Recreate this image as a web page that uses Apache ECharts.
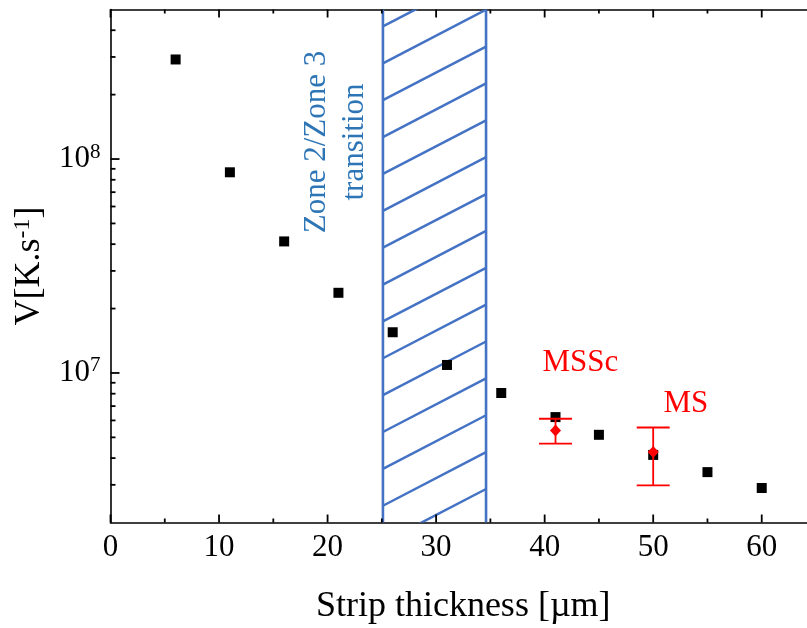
<!DOCTYPE html>
<html><head><meta charset="utf-8">
<script src="https://cdn.jsdelivr.net/npm/echarts@6/dist/echarts.min.js"></script>
<style>html,body{margin:0;padding:0;background:#fff}#c{width:807px;height:628px}</style>
</head><body><div id="c"></div>
<script>
// ---- data ----
const thickness = [6, 11, 16, 21, 26, 31, 36, 41, 45, 50, 55, 60];
const velocity = [2.92e8, 8.67e7, 4.12e7, 2.37e7, 1.55e7, 1.09e7, 8.06e6, 6.22e6, 5.14e6, 4.14e6, 3.44e6, 2.90e6];
const sampleNames = ['MSSc', 'MS'];
const sampleThickness = [41, 50];
const sampleVelocity = [5.39e6, 4.27e6];
const sampleLow = [4.67e6, 2.98e6];
const sampleHigh = [6.11e6, 5.56e6];
const transitionZone = [25.1, 34.6];
const transitionLabel = ['Zone 2/Zone 3', 'transition'];
// tick positions
const xMajorTicks = [0, 10, 20, 30, 40, 50, 60];
const xMinorTicks = [5, 15, 25, 35, 45, 55];
const yMajorTicks = [1e7, 1e8];
const yMinorTicks = [3e6, 4e6, 5e6, 6e6, 7e6, 8e6, 9e6, 2e7, 3e7, 4e7, 5e7, 6e7, 7e7, 8e7, 9e7, 2e8, 3e8, 4e8];

const FONT = 'Liberation Serif';
const BLUE_LINE = '#4472c4';
const BLUE_TEXT = '#2e75b6';
const RED = '#ff0000';
const TICK = '#000';
const X_MIN = 0, Y_MIN = 2e6;

const chart = echarts.init(document.getElementById('c'), null, {renderer: 'canvas'});

const xCommon = {
  type: 'value', min: X_MIN, max: 65, interval: 10,
  axisLine: {show: true, onZero: false, lineStyle: {color: '#000', width: 1.6}},
  axisTick: {show: false},
  splitLine: {show: false}
};

// all axis ticks, drawn through the axes' own scales in one custom series
const tickData = [];
xMajorTicks.forEach(v => tickData.push([v, Y_MIN, 0, 8]));
xMinorTicks.forEach(v => tickData.push([v, Y_MIN, 0, 4]));
yMajorTicks.forEach(v => tickData.push([X_MIN, v, 1, 9]));
yMinorTicks.forEach(v => tickData.push([X_MIN, v, 1, 5]));

const option = {
  animation: false,
  backgroundColor: '#fff',
  grid: {left: 110.5, top: 9.5, bottom: 105.5, right: -9, containLabel: false, outerBoundsMode: 'none'},
  xAxis: [
    Object.assign({}, xCommon, {
      position: 'bottom',
      name: 'Strip thickness [\u00b5m]', nameLocation: 'middle', nameGap: 66,
      nameTextStyle: {fontFamily: FONT, fontSize: 36, color: '#000'},
      axisLabel: {show: true, margin: 10, fontFamily: FONT, fontSize: 31, color: '#000',
        showMaxLabel: false}
    }),
    Object.assign({}, xCommon, {position: 'top', axisLabel: {show: false}})
  ],
  yAxis: {
    type: 'log', logBase: 10, min: Y_MIN, max: 5e8,
    axisLine: {show: true, lineStyle: {color: '#000', width: 1.6}},
    axisTick: {show: false},
    splitLine: {show: false},
    name: '{b|V[K.s}{s|-1}{b|]}', nameLocation: 'middle', nameRotate: 90, nameGap: 62,
    nameTextStyle: {
      rich: {
        b: {fontFamily: FONT, fontSize: 36, color: '#000'},
        s: {fontFamily: FONT, fontSize: 24, color: '#000', verticalAlign: 'top', padding: [0, 0, 14, 0]}
      }
    },
    axisLabel: {
      show: true, margin: 10, showMinLabel: false, showMaxLabel: false,
      formatter: function (v) {
        const e = Math.log10(v);
        if (Math.abs(e - Math.round(e)) > 1e-6) return '';
        return '{b|10}{s|' + Math.round(e) + '}';
      },
      rich: {
        b: {fontFamily: FONT, fontSize: 31, color: '#000'},
        s: {fontFamily: FONT, fontSize: 21, color: '#000', verticalAlign: 'top', padding: [0, 0, 14, 0]}
      }
    }
  },
  series: [
    {
      // hatched transition region
      type: 'custom', name: 'transition', clip: true, z: 1,
      data: [[transitionZone[0], transitionZone[1]]],
      encode: {x: [0, 1]},
      renderItem: function (params, api) {
        const cs = params.coordSys;
        const xl = api.coord([api.value(0), 1e7])[0];
        const xr = api.coord([api.value(1), 1e7])[0];
        const top = cs.y, bottom = cs.y + cs.height;
        const w = xr - xl;
        const rise = 0.52 * w;
        const spacing = 36.87;
        const children = [];
        for (let k = -3; k <= 16; k++) {
          const yl = top + 53.8 + k * spacing;
          children.push({type: 'line', shape: {x1: xl, y1: yl, x2: xr, y2: yl - rise},
            style: {stroke: BLUE_LINE, lineWidth: 2.5}});
        }
        children.push({type: 'line', shape: {x1: xl, y1: top, x2: xl, y2: bottom}, style: {stroke: BLUE_LINE, lineWidth: 2.6}});
        children.push({type: 'line', shape: {x1: xr, y1: top, x2: xr, y2: bottom}, style: {stroke: BLUE_LINE, lineWidth: 2.6}});
        children.push({type: 'text', x: xl - 47.4, y: top + 132.5, rotation: Math.PI / 2,
          style: {text: transitionLabel.join('\n'), fill: BLUE_TEXT, fontFamily: FONT, fontSize: 31,
            lineHeight: 38, align: 'center', verticalAlign: 'middle'}});
        return {type: 'group', children: children};
      }
    },
    {
      type: 'custom', name: 'ticks', z: 10, clip: false,
      data: tickData,
      encode: {x: 0, y: 1},
      renderItem: function (params, api) {
        const cs = params.coordSys;
        const p = api.coord([api.value(0), api.value(1)]);
        const dir = api.value(2), len = api.value(3);
        const st = {stroke: TICK, lineWidth: 1.8};
        if (dir === 0) {
          const top = cs.y, bottom = cs.y + cs.height;
          return {type: 'group', children: [
            {type: 'line', shape: {x1: p[0], y1: bottom, x2: p[0], y2: bottom - len}, style: st},
            {type: 'line', shape: {x1: p[0], y1: top, x2: p[0], y2: top + len}, style: st}
          ]};
        }
        return {type: 'line', shape: {x1: cs.x, y1: p[1], x2: cs.x + len, y2: p[1]}, style: st};
      }
    },
    {
      type: 'scatter', name: 'V', z: 4,
      symbol: 'rect', symbolSize: 10,
      itemStyle: {color: '#000', opacity: 1},
      data: thickness.map((t, i) => [t, velocity[i]])
    },
    {
      // error bars of the samples
      type: 'custom', name: 'errors', z: 5,
      data: sampleThickness.map((t, i) => [t, sampleLow[i], sampleHigh[i]]),
      encode: {x: 0, y: [1, 2]},
      renderItem: function (params, api) {
        const lo = api.coord([api.value(0), api.value(1)]);
        const hi = api.coord([api.value(0), api.value(2)]);
        const hw = 16.5;
        const st = {stroke: RED, lineWidth: 1.8};
        return {type: 'group', children: [
          {type: 'line', shape: {x1: lo[0], y1: lo[1], x2: hi[0], y2: hi[1]}, style: st},
          {type: 'line', shape: {x1: lo[0] - hw, y1: lo[1], x2: lo[0] + hw, y2: lo[1]}, style: st},
          {type: 'line', shape: {x1: hi[0] - hw, y1: hi[1], x2: hi[0] + hw, y2: hi[1]}, style: st}
        ]};
      }
    },
    {
      type: 'scatter', name: 'samples', z: 6,
      symbol: 'diamond', symbolSize: [11, 12],
      itemStyle: {color: RED, opacity: 1},
      data: sampleThickness.map((t, i) => ({
        value: [t, sampleVelocity[i]], name: sampleNames[i],
        label: {show: true, position: 'inside', formatter: '{b}',
          offset: i === 0 ? [24.8, -67.9] : [32.7, -47.8],
          fontFamily: FONT, fontSize: 31, color: RED}
      }))
    }
  ]
};
chart.setOption(option);
</script>
</body></html>
